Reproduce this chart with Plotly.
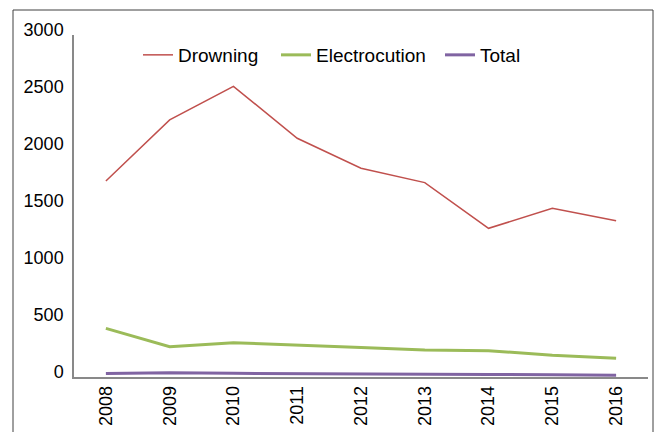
import plotly.graph_objects as go

years = ["2008", "2009", "2010", "2011", "2012", "2013", "2014", "2015", "2016"]
drowning = [1720, 2255, 2550, 2094, 1831, 1705, 1304, 1480, 1371]
electrocution = [427, 266, 301, 283, 259, 237, 231, 190, 164]
total = [30, 38, 32, 28, 26, 25, 22, 19, 16]

W, H = 659, 432
L, R, T, B = 74, 11, 35, 55

pw = W - L - R
ph = H - T - B

fig = go.Figure()
fig.add_trace(go.Scatter(x=years, y=drowning, mode="lines", name="Drowning",
                         line=dict(color="#C0504D", width=1.5), legend="legend"))
fig.add_trace(go.Scatter(x=years, y=electrocution, mode="lines", name="Electrocution",
                         line=dict(color="#9BBB59", width=3), legend="legend2"))
fig.add_trace(go.Scatter(x=years, y=total, mode="lines", name="Total",
                         line=dict(color="#8064A2", width=3), legend="legend3"))

# outer frame in paper coords
x0 = (13 - L) / pw
x1 = (653 - L) / pw
y1 = (H - B - 10) / ph
y0 = (H - B - 440) / ph
fig.add_shape(type="rect", xref="paper", yref="paper", x0=x0, x1=x1, y0=y0, y1=y1,
              line=dict(color="#404040", width=1), fillcolor="rgba(0,0,0,0)", layer="above")

ly = (H - B - 55) / ph
def leg(px):
    return dict(orientation="h", x=(px - L) / pw, y=ly, xanchor="left", yanchor="middle",
                bgcolor="rgba(0,0,0,0)", font=dict(size=19, color="#000000"))

fig.update_layout(
    width=W, height=H,
    margin=dict(l=L, r=R, t=T, b=B, autoexpand=False),
    paper_bgcolor="white", plot_bgcolor="white",
    font=dict(family="Liberation Sans, Arial", size=18, color="#000000"),
    showlegend=True,
    legend=leg(138), legend2=leg(276), legend3=leg(440),
    xaxis=dict(type="category", range=[-0.5, 8.5], showgrid=False, zeroline=False,
               showline=True, linecolor="#898989", linewidth=1.5, ticks="",
               tickangle=-90, tickfont=dict(size=18), automargin=False),
    yaxis=dict(range=[0, 3000], dtick=500, showgrid=False, zeroline=False,
               showline=True, linecolor="#898989", linewidth=1.5, ticks="",
               tickfont=dict(size=18), ticklabelshift=-5, ticklabelstandoff=5,
               automargin=False),
)

fig.write_html("out.html")
